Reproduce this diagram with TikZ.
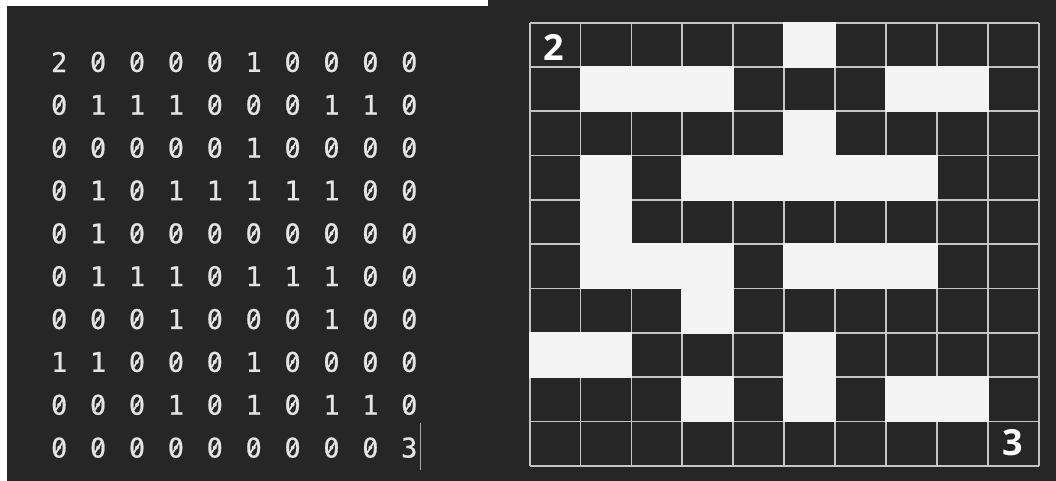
\documentclass[tikz,border=0pt]{standalone}
\usepackage{fontspec}
\newfontfamily\codefont[FakeBold=0.8]{DejaVu Sans Mono}
\newfontfamily\labelfont{Open Sans}
\definecolor{bgdark}{HTML}{262626}
\definecolor{cellwhite}{HTML}{F4F4F4}
\definecolor{gridline}{HTML}{C4C4C4}
\definecolor{codetext}{HTML}{E4E4E4}
\definecolor{cursorgray}{HTML}{A8A8A8}
\begin{document}
\begin{tikzpicture}[x=1pt,y=-1pt,
  digit/.style={inner sep=0pt, text=codetext, font=\codefont\fontsize{27}{27}\selectfont},
  zeroslash/.style={draw=codetext, line width=1.7pt},
  gridl/.style={draw=gridline, line width=1.8pt},
  whitecell/.style={fill=cellwhite},
  lbl/.style={inner sep=0pt, text=white, font=\labelfont\bfseries\fontsize{36}{36}\selectfont},
  cursorline/.style={draw=cursorgray, line width=1.2pt}]
\useasboundingbox (0,0) rectangle (1056,481);
\fill[bgdark] (0,0) rectangle (1056,481);
\fill[white] (0,0) rectangle (7,481);
\fill[white] (0,0) rectangle (488,6);
% code matrix
\foreach \vals [count=\r from 0] in {{2,0,0,0,0,1,0,0,0,0},{0,1,1,1,0,0,0,1,1,0},{0,0,0,0,0,1,0,0,0,0},{0,1,0,1,1,1,1,1,0,0},{0,1,0,0,0,0,0,0,0,0},{0,1,1,1,0,1,1,1,0,0},{0,0,0,1,0,0,0,1,0,0},{1,1,0,0,0,1,0,0,0,0},{0,0,0,1,0,1,0,1,1,0},{0,0,0,0,0,0,0,0,0,3}}{
  \foreach \v [count=\c from 0] in \vals {
    \node[digit] (d-\r-\c) at ({59.2+38.9*\c},{62+42.85*\r}) {\v};
    \ifnum\v=0
      \draw[zeroslash] ([shift={(3.2,-5.2)}]d-\r-\c.center) -- ([shift={(-3.2,5.2)}]d-\r-\c.center);
    \fi
  }
}
\coordinate (cur-top) at (420.7,423);
\coordinate (cur-bot) at (420.7,470);
\draw[cursorline] (cur-top) -- (cur-bot);
% grid
\foreach \i in {0,...,10}{
  \draw[gridl] ({529.6+50.9*\i},22.7) -- ({529.6+50.9*\i},465.7);
  \draw[gridl] (529.6,{22.7+44.3*\i}) -- (1038.6,{22.7+44.3*\i});
}
\foreach \r/\c in {0/5,1/1,1/2,1/3,1/7,1/8,2/5,3/1,3/3,3/4,3/5,3/6,3/7,4/1,5/1,5/2,5/3,5/5,5/6,5/7,6/3,7/0,7/1,7/5,8/3,8/5,8/7,8/8}{
  \fill[whitecell] ({529.6+50.9*\c-0.9},{22.7+44.3*\r-0.9}) rectangle ({529.6+50.9*(\c+1)+0.9},{22.7+44.3*(\r+1)+0.9});
}
\node[lbl] (start) at (554,47) {2};
\node[lbl] (goal) at (1012.5,443) {3};
\end{tikzpicture}
\end{document}
